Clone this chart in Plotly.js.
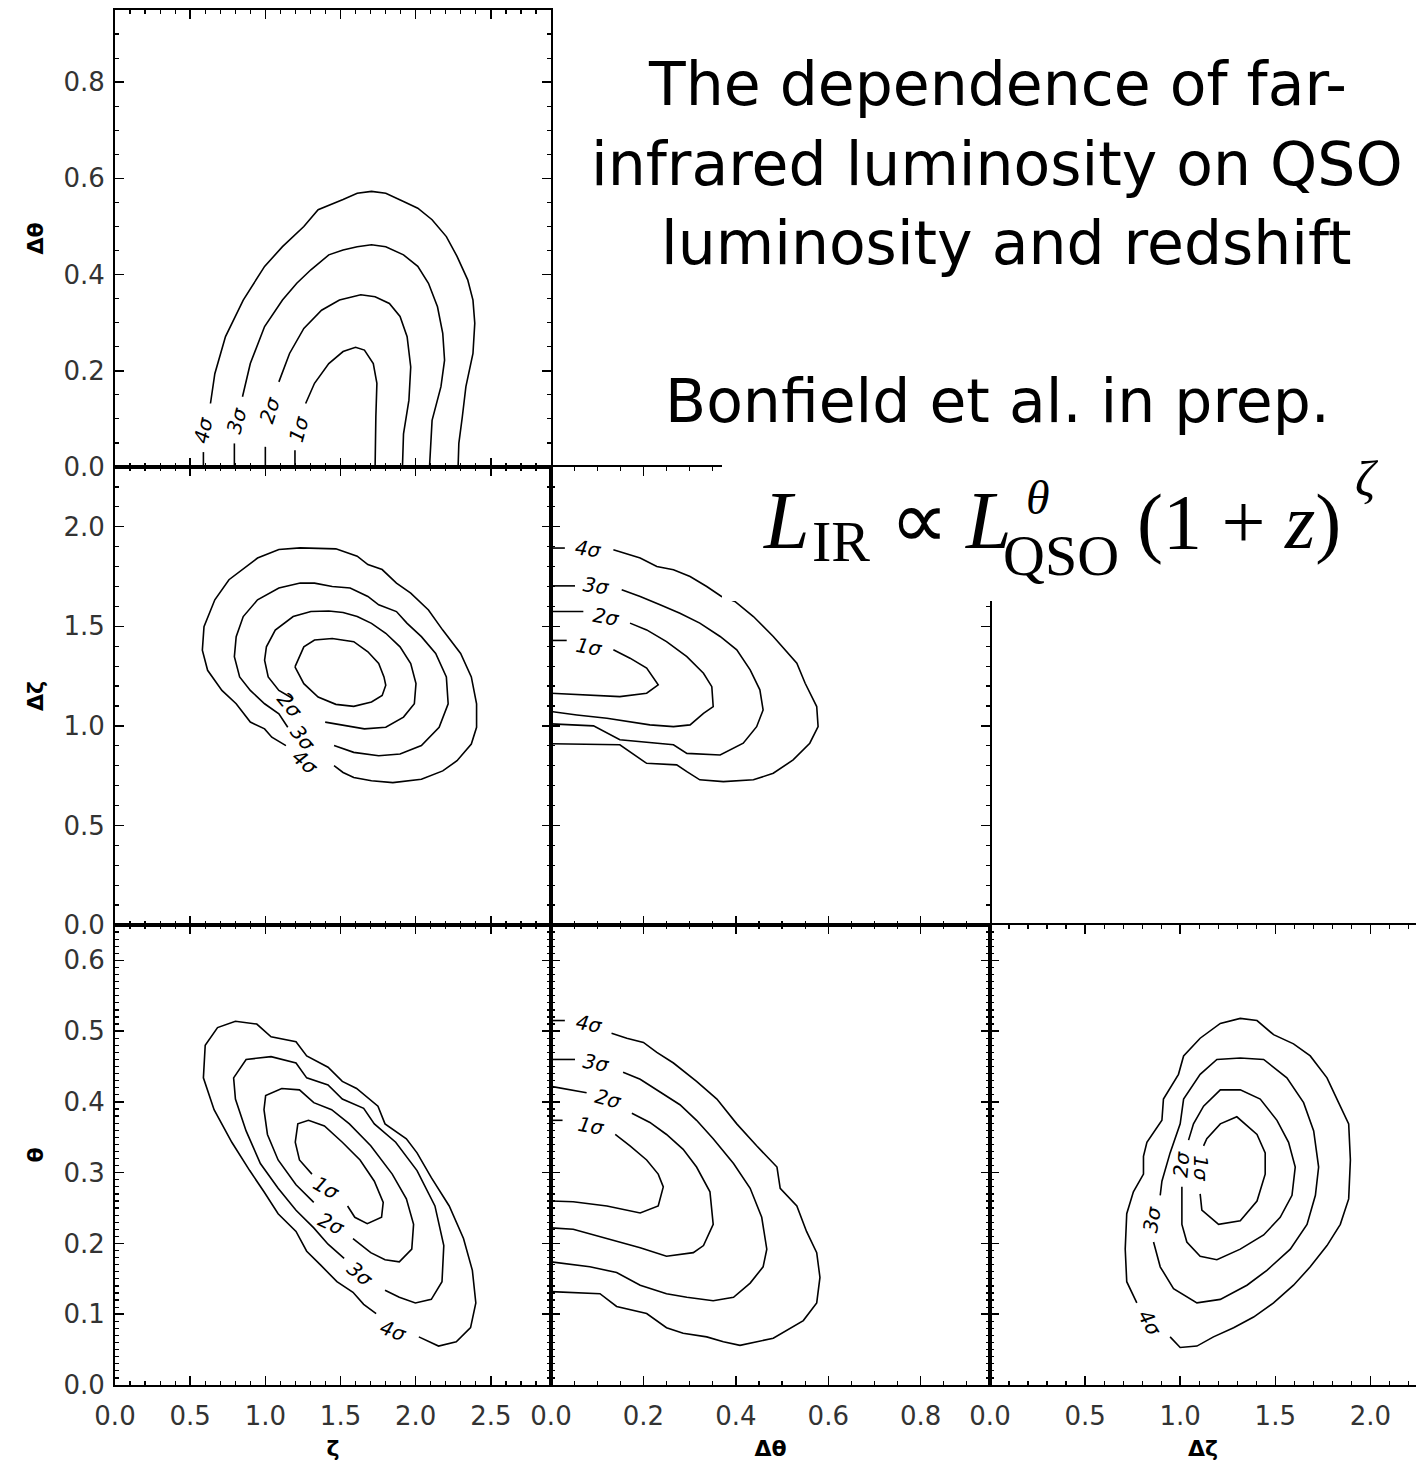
<!DOCTYPE html>
<html><head><meta charset="utf-8">
<script src="https://cdn.plot.ly/plotly-3.0.1.min.js"></script>
<style>html,body{margin:0;padding:0;background:#fff;} #chart{width:1416px;height:1466px;}</style>
</head><body><div id="chart"></div>
<script>
// ---------------- DATA ----------------
const levels = ['1σ','2σ','3σ','4σ'];
const rangeZeta = [0, 2.9], rangeDTheta = [0, 0.95], rangeDZeta = [0, 2.3], rangeTheta = [0, 0.65], rangeDZetaX = [0, 2.24];
const axisNames = {zeta:'ζ', dtheta:'Δθ', dzeta:'Δζ', theta:'θ'};

// Panel A: x = zeta, y = dtheta
const A1x=[1.197,1.197,null,1.268,1.327,1.422,1.517,1.600,1.659,1.718,1.742,1.735,1.730];
const A1y=[0.0,0.035,null,0.132,0.174,0.215,0.240,0.249,0.243,0.215,0.174,0.104,0.0];
const A2x=[1.0,1.0,null,1.090,1.161,1.256,1.374,1.493,1.635,1.730,1.825,1.896,1.943,1.967,1.955,1.919,1.912];
const A2y=[0.0,0.042,null,0.177,0.236,0.288,0.326,0.347,0.358,0.354,0.340,0.313,0.271,0.208,0.139,0.069,0.0];
const A3x=[0.794,0.794,null,0.848,0.900,0.995,1.114,1.209,1.303,1.422,1.517,1.611,1.706,1.801,1.919,2.014,2.085,2.145,2.180,2.192,2.168,2.109,2.097,2.092];
const A3y=[0.0,0.049,null,0.146,0.215,0.292,0.347,0.382,0.410,0.441,0.451,0.458,0.462,0.458,0.441,0.417,0.382,0.333,0.278,0.222,0.167,0.097,0.042,0.0];
const A4x=[0.588,0.588,null,0.635,0.664,0.735,0.853,0.995,1.114,1.256,1.351,1.517,1.611,1.706,1.801,1.919,2.014,2.109,2.204,2.275,2.346,2.381,2.393,2.381,2.334,2.310,2.287,2.282];
const A4y=[0.0,0.031,null,0.132,0.194,0.271,0.347,0.417,0.458,0.500,0.535,0.556,0.569,0.573,0.569,0.552,0.538,0.514,0.479,0.438,0.389,0.347,0.299,0.236,0.167,0.104,0.049,0.0];
const A_lab=['1σ','2σ','3σ','4σ'], A_labX=[1.22,1.031,0.81,0.587], A_labY=[0.080,0.118,0.098,0.077], A_ang=[-75,-72,-75,-78];

// Panel B: x = zeta, y = dzeta
const B1x=[1.197,1.256,1.327,1.445,1.588,1.682,1.754,1.789,1.801,1.777,1.706,1.588,1.469,1.351,1.256,1.197];
const B1y=[1.296,1.397,1.431,1.439,1.423,1.372,1.313,1.246,1.204,1.153,1.120,1.098,1.108,1.145,1.212,1.296];
const B2x=[1.398,1.517,1.659,1.801,1.919,1.991,2.002,1.967,1.896,1.801,1.706,1.611,1.517,1.422,1.303,1.185,1.066,1.007,0.995,1.019,1.090,1.185];
const B2y=[1.019,1.002,0.985,0.993,1.044,1.111,1.212,1.313,1.397,1.465,1.515,1.549,1.569,1.577,1.574,1.549,1.481,1.397,1.330,1.246,1.178,1.136];
const B3x=[1.457,1.588,1.754,1.896,2.038,2.156,2.216,2.204,2.133,2.038,1.943,1.872,1.754,1.682,1.564,1.445,1.327,1.232,1.090,0.948,0.853,0.806,0.794,0.829,0.900,0.995,1.090,1.149];
const B3y=[0.901,0.867,0.850,0.859,0.901,0.993,1.111,1.246,1.364,1.448,1.515,1.574,1.608,1.650,1.692,1.700,1.717,1.717,1.692,1.633,1.549,1.448,1.347,1.246,1.178,1.111,1.061,0.993];
const B4x=[1.137,1.043,0.995,0.900,0.806,0.711,0.616,0.581,0.592,0.664,0.758,0.877,0.948,1.090,1.232,1.469,1.611,1.682,1.777,1.872,1.967,2.085,2.180,2.299,2.370,2.405,2.405,2.370,2.275,2.180,2.038,1.848,1.706,1.588,1.517,1.457];
const B4y=[0.901,0.943,0.985,1.019,1.111,1.178,1.279,1.380,1.498,1.633,1.734,1.801,1.843,1.886,1.894,1.889,1.852,1.810,1.785,1.717,1.667,1.582,1.481,1.364,1.246,1.111,0.993,0.909,0.825,0.774,0.732,0.715,0.724,0.741,0.766,0.800];
const B_lab=['2σ','3σ','4σ'], B_labX=[1.164,1.251,1.264], B_labY=[1.106,0.94,0.819], B_ang=[50,50,40];

// Panel C: x = dtheta, y = dzeta
const C1x=[0.0,0.034,null,0.135,0.171,0.207,0.232,0.207,0.149,0.0];
const C1y=[1.429,1.429,null,1.382,1.340,1.290,1.206,1.164,1.147,1.164];
const C2x=[0.0,0.070,null,0.171,0.207,0.250,0.294,0.330,0.348,0.351,0.330,0.301,0.265,0.214,0.121,0.056,0.0];
const C2y=[1.574,1.574,null,1.516,1.482,1.423,1.348,1.264,1.197,1.097,1.063,1.005,0.996,1.005,1.038,1.055,1.072];
const C3x=[0.0,0.052,null,0.153,0.193,0.236,0.279,0.322,0.366,0.402,0.431,0.452,0.459,0.445,0.416,0.366,0.294,0.265,0.149,0.092,0.0];
const C3y=[1.703,1.703,null,1.683,1.650,1.608,1.566,1.516,1.449,1.382,1.281,1.181,1.080,0.996,0.913,0.854,0.862,0.905,0.930,1.000,1.010];
const C4x=[0.0,0.030,null,0.135,0.193,0.229,0.265,0.301,0.337,0.369,0.398,0.438,0.481,0.532,0.550,0.575,0.578,0.560,0.524,0.481,0.438,0.373,0.322,0.294,0.272,0.207,0.149,0.0];
const C4y=[1.893,1.893,null,1.884,1.843,1.800,1.784,1.750,1.700,1.650,1.625,1.549,1.449,1.315,1.214,1.097,0.996,0.913,0.829,0.762,0.729,0.720,0.729,0.770,0.804,0.812,0.905,0.910];
const C_lab=['1σ','2σ','3σ','4σ'], C_labX=[0.084,0.121,0.099,0.081], C_labY=[1.398,1.549,1.700,1.887], C_ang=[10,10,8,8];

// Panel D: x = zeta, y = theta
const D1x=[1.310,1.227,1.199,1.216,1.287,1.393,1.512,1.630,1.725,1.784,1.773,1.678,1.595,1.547];
const D1y=[0.298,0.318,0.343,0.369,0.374,0.366,0.343,0.318,0.288,0.258,0.237,0.228,0.237,0.253];
const D2x=[1.322,1.204,1.085,1.014,0.991,1.002,1.109,1.227,1.322,1.441,1.559,1.701,1.844,1.938,1.986,1.974,1.891,1.796,1.701,1.583];
const D2y=[0.258,0.283,0.318,0.354,0.389,0.409,0.419,0.417,0.399,0.389,0.369,0.338,0.298,0.263,0.227,0.192,0.174,0.177,0.187,0.207];
const D3x=[1.524,1.417,1.322,1.204,1.085,0.967,0.872,0.801,0.789,0.872,1.038,1.204,1.275,1.417,1.512,1.654,1.725,1.867,2.009,2.128,2.187,2.175,2.104,1.998,1.891,1.796];
const D3y=[0.179,0.199,0.222,0.247,0.278,0.313,0.359,0.404,0.434,0.460,0.464,0.455,0.434,0.424,0.404,0.391,0.369,0.343,0.303,0.253,0.197,0.146,0.121,0.116,0.124,0.134];
const D4x=[1.737,1.654,1.583,1.476,1.370,1.275,1.204,1.085,0.991,0.896,0.777,0.659,0.588,0.600,0.682,0.801,0.943,1.038,1.204,1.275,1.417,1.512,1.607,1.749,1.796,1.938,2.009,2.104,2.223,2.318,2.377,2.400,2.365,2.270,2.152,2.021];
const D4y=[0.101,0.114,0.131,0.146,0.169,0.189,0.217,0.242,0.273,0.303,0.343,0.389,0.434,0.480,0.505,0.514,0.510,0.492,0.485,0.465,0.449,0.429,0.419,0.394,0.369,0.348,0.328,0.293,0.253,0.207,0.162,0.116,0.081,0.061,0.055,0.068];
const D_lab=['1σ','2σ','3σ','4σ'], D_labX=[1.405,1.441,1.630,1.855], D_labY=[0.278,0.227,0.157,0.076], D_ang=[30,25,40,20];

// Panel E: x = dtheta, y = theta
const E1x=[0.0,0.025,null,0.139,0.171,0.207,0.232,0.243,0.232,0.193,0.121,0.048,0.0];
const E1y=[0.374,0.374,null,0.354,0.338,0.318,0.298,0.280,0.253,0.243,0.253,0.259,0.260];
const E2x=[0.0,0.077,null,0.175,0.214,0.250,0.286,0.315,0.344,0.351,0.330,0.308,0.250,0.193,0.121,0.048,0.0];
const E2y=[0.422,0.413,null,0.384,0.371,0.354,0.333,0.308,0.273,0.227,0.197,0.187,0.182,0.194,0.207,0.220,0.222];
const E3x=[0.0,0.052,null,0.156,0.193,0.236,0.279,0.315,0.351,0.395,0.431,0.456,0.467,0.459,0.431,0.395,0.351,0.294,0.250,0.193,0.142,0.084,0.0];
const E3y=[0.460,0.460,null,0.442,0.432,0.414,0.396,0.374,0.348,0.313,0.278,0.237,0.192,0.167,0.144,0.124,0.119,0.124,0.129,0.141,0.159,0.167,0.174];
const E4x=[0.0,0.030,null,0.131,0.164,0.200,0.229,0.265,0.315,0.359,0.402,0.445,0.489,0.496,0.532,0.553,0.575,0.582,0.575,0.546,0.481,0.409,0.373,0.337,0.286,0.250,0.207,0.142,0.106,0.0];
const E4y=[0.515,0.515,null,0.497,0.490,0.484,0.470,0.455,0.429,0.404,0.369,0.338,0.308,0.278,0.253,0.217,0.187,0.152,0.116,0.091,0.066,0.056,0.061,0.068,0.073,0.081,0.101,0.111,0.129,0.132];
const E_lab=['1σ','2σ','3σ','4σ'], E_labX=[0.088,0.124,0.099,0.084], E_labY=[0.366,0.404,0.455,0.510], E_ang=[10,15,10,10];

// Panel F: x = dzeta, y = theta
const F1x=[1.105,1.114,1.202,1.316,1.404,1.447,1.447,1.404,1.298,1.211,1.140,1.123];
const F1y=[0.270,0.247,0.227,0.232,0.260,0.298,0.328,0.354,0.379,0.369,0.348,0.338];
const F2x=[1.009,1.009,1.035,1.105,1.193,1.316,1.439,1.526,1.588,1.605,1.570,1.509,1.421,1.316,1.211,1.123,1.070,1.044];
const F2y=[0.280,0.227,0.202,0.182,0.177,0.192,0.212,0.237,0.268,0.308,0.343,0.374,0.404,0.417,0.417,0.394,0.369,0.346];
const F3x=[0.860,0.895,0.965,1.088,1.211,1.351,1.456,1.579,1.667,1.711,1.728,1.702,1.649,1.561,1.439,1.316,1.193,1.105,1.018,1.0,0.947,0.904,0.895];
const F3y=[0.202,0.167,0.136,0.116,0.121,0.141,0.162,0.192,0.227,0.268,0.308,0.359,0.399,0.434,0.460,0.462,0.460,0.439,0.404,0.369,0.328,0.288,0.268];
const F4x=[0.947,1.0,1.088,1.175,1.281,1.386,1.491,1.596,1.684,1.772,1.842,1.886,1.895,1.886,1.833,1.772,1.684,1.596,1.491,1.404,1.316,1.211,1.105,1.018,0.991,0.912,0.904,0.825,0.807,0.807,0.754,0.719,0.711,0.719,0.772];
const F4y=[0.068,0.053,0.055,0.068,0.081,0.096,0.116,0.141,0.167,0.197,0.227,0.263,0.318,0.369,0.399,0.434,0.465,0.482,0.495,0.515,0.518,0.511,0.490,0.465,0.439,0.404,0.374,0.343,0.323,0.298,0.273,0.242,0.192,0.146,0.116];
const F_lab=['1σ','2σ','3σ','4σ'], F_labX=[1.105,1.009,0.851,0.842], F_labY=[0.306,0.313,0.235,0.088], F_ang=[90,-85,-80,60];

const titleLines = ['The dependence of far-', 'infrared luminosity on QSO', '\u00a0luminosity and redshift', 'Bonfield et al. in prep.'];
// formula pieces: L_IR ∝ L^θ_QSO (1 + z)^ζ
const formulaParts = ['<i>L</i>', 'IR', '∝', '<i>L</i>', '<i>θ</i>', 'QSO', '(1 + <i>z</i>)', '<i>ζ</i>'];

// ---------------- LAYOUT ----------------
const W = 1416, H = 1466;
const px = p => p / W, py = p => 1 - p / H;
const colDom = [[px(115), px(551)], [px(551), px(990)], [px(990), 1]];
const rowDom = [[py(467), py(10)], [py(925), py(467)], [py(1385), py(925)]];

const tickFont = {family: 'DejaVu Sans, Arial, sans-serif', size: 26, color: '#333'};
const titleFont = {family: 'DejaVu Sans, Arial, sans-serif', size: 22, color: '#000'};

function axis(range, dtick, mdtick, domain, anchor, showLabels, isX, title, mirror) {
  const a = {
    range: range, domain: domain, anchor: anchor, autorange: false,
    showline: true, linecolor: '#000', linewidth: 2,
    mirror: mirror === undefined ? 'allticks' : mirror,
    ticks: 'inside', ticklen: 9, tickwidth: 1.5, tickcolor: '#000',
    dtick: dtick, tick0: 0, tickformat: '.1f',
    showticklabels: showLabels, tickfont: tickFont,
    ticklabelstandoff: isX ? 7 : 3,
    minor: {ticks: 'inside', ticklen: 4, tickwidth: 1.2, tickcolor: '#000', dtick: mdtick, tick0: 0, showgrid: false},
    showgrid: false, zeroline: false, automargin: false, fixedrange: true
  };
  if (title) a.title = {text: '<b>' + title + '</b>', font: titleFont, standoff: isX ? 10 : 14};
  return a;
}

const layout = {
  width: W, height: H,
  margin: {l: 0, r: 0, t: 0, b: 0, pad: 0},
  paper_bgcolor: '#fff', plot_bgcolor: '#fff',
  showlegend: false,
  font: {family: 'DejaVu Sans, Arial, sans-serif', color: '#000'},
  xaxis:  axis(rangeZeta, 0.5, 0.1, colDom[0], 'y', false, true, null),
  yaxis:  axis(rangeDTheta, 0.2, 0.05, rowDom[0], 'x', true, false, axisNames.dtheta),
  xaxis2: axis(rangeZeta, 0.5, 0.1, colDom[0], 'y2', false, true, null),
  yaxis2: axis(rangeDZeta, 0.5, 0.1, rowDom[1], 'x2', true, false, axisNames.dzeta),
  xaxis3: axis(rangeDTheta, 0.2, 0.05, colDom[1], 'y3', false, true, null),
  yaxis3: axis(rangeDZeta, 0.5, 0.1, rowDom[1], 'x3', false, false, null),
  xaxis4: axis(rangeZeta, 0.5, 0.1, colDom[0], 'y4', true, true, axisNames.zeta),
  yaxis4: axis(rangeTheta, 0.1, 0.01, rowDom[2], 'x4', true, false, axisNames.theta),
  xaxis5: axis(rangeDTheta, 0.2, 0.05, colDom[1], 'y5', true, true, axisNames.dtheta),
  yaxis5: axis(rangeTheta, 0.1, 0.01, rowDom[2], 'x5', false, false, null),
  xaxis6: axis(rangeDZetaX, 0.5, 0.1, colDom[2], 'y6', true, true, axisNames.dzeta),
  yaxis6: axis(rangeTheta, 0.1, 0.01, rowDom[2], 'x6', false, false, null, false),
  shapes: [
    {type: 'rect', xref: 'paper', yref: 'paper', x0: px(722), x1: 1, y0: py(601), y1: 1,
     fillcolor: '#fff', line: {width: 0}, layer: 'above'}
  ],
  annotations: []
};

// ---------------- TRACES ----------------
const panels = [
  {xa: 'x',  ya: 'y',  c: [[A1x,A1y],[A2x,A2y],[A3x,A3y],[A4x,A4y]], lab: A_lab, lx: A_labX, ly: A_labY, ang: A_ang},
  {xa: 'x2', ya: 'y2', c: [[B1x,B1y],[B2x,B2y],[B3x,B3y],[B4x,B4y]], lab: B_lab, lx: B_labX, ly: B_labY, ang: B_ang},
  {xa: 'x3', ya: 'y3', c: [[C1x,C1y],[C2x,C2y],[C3x,C3y],[C4x,C4y]], lab: C_lab, lx: C_labX, ly: C_labY, ang: C_ang},
  {xa: 'x4', ya: 'y4', c: [[D1x,D1y],[D2x,D2y],[D3x,D3y],[D4x,D4y]], lab: D_lab, lx: D_labX, ly: D_labY, ang: D_ang},
  {xa: 'x5', ya: 'y5', c: [[E1x,E1y],[E2x,E2y],[E3x,E3y],[E4x,E4y]], lab: E_lab, lx: E_labX, ly: E_labY, ang: E_ang},
  {xa: 'x6', ya: 'y6', c: [[F1x,F1y],[F2x,F2y],[F3x,F3y],[F4x,F4y]], lab: F_lab, lx: F_labX, ly: F_labY, ang: F_ang}
];

const traces = [];
panels.forEach(p => {
  p.c.forEach((xy, i) => {
    traces.push({type: 'scatter', mode: 'lines', x: xy[0], y: xy[1], xaxis: p.xa, yaxis: p.ya,
      name: levels[i], connectgaps: false, hoverinfo: 'skip', showlegend: false,
      line: {color: '#000', width: 1.6}, cliponaxis: true});
  });
  p.lab.forEach((t, i) => {
    layout.annotations.push({xref: p.xa, yref: p.ya, x: p.lx[i], y: p.ly[i], text: '<i>' + t + '</i>',
      showarrow: false, textangle: p.ang[i], xanchor: 'center', yanchor: 'middle',
      font: {family: 'DejaVu Sans, Arial, sans-serif', size: 20, color: '#000'}});
  });
});

// Title text block
const titleY = [84, 164, 243, 401];
titleLines.forEach((t, i) => {
  layout.annotations.push({xref: 'paper', yref: 'paper', x: px(997), y: py(titleY[i]), text: t,
    showarrow: false, xanchor: 'center', yanchor: 'middle',
    font: {family: 'DejaVu Sans, Arial, sans-serif', size: 60, color: '#000'}});
});

// Formula, placed piece by piece (left x px, center y px, font size, anchor)
const serif = 'Liberation Serif, Times New Roman, serif';
const fPos = [
  {x: 762,  y: 520, s: 82, a: 'left'},
  {x: 811,  y: 541, s: 58, a: 'left'},
  {x: 919,  y: 520, s: 82, a: 'center'},
  {x: 964,  y: 520, s: 82, a: 'left'},
  {x: 1038, y: 497, s: 48, a: 'center'},
  {x: 1002, y: 555, s: 58, a: 'left'},
  {x: 1136, y: 521, s: 78, a: 'left'},
  {x: 1354, y: 479, s: 50, a: 'left'}
];
formulaParts.forEach((t, i) => {
  const f = fPos[i];
  layout.annotations.push({xref: 'paper', yref: 'paper', x: px(f.x), y: py(f.y), text: t,
    showarrow: false, xanchor: f.a, yanchor: 'middle', borderpad: 0,
    font: {family: serif, size: f.s, color: '#000'}});
});

Plotly.newPlot('chart', traces, layout, {staticPlot: true, displayModeBar: false}).then(gd => {
  gd.querySelectorAll('text').forEach(t => { if (!t.textContent.trim()) t.remove(); });
});
</script></body></html>
